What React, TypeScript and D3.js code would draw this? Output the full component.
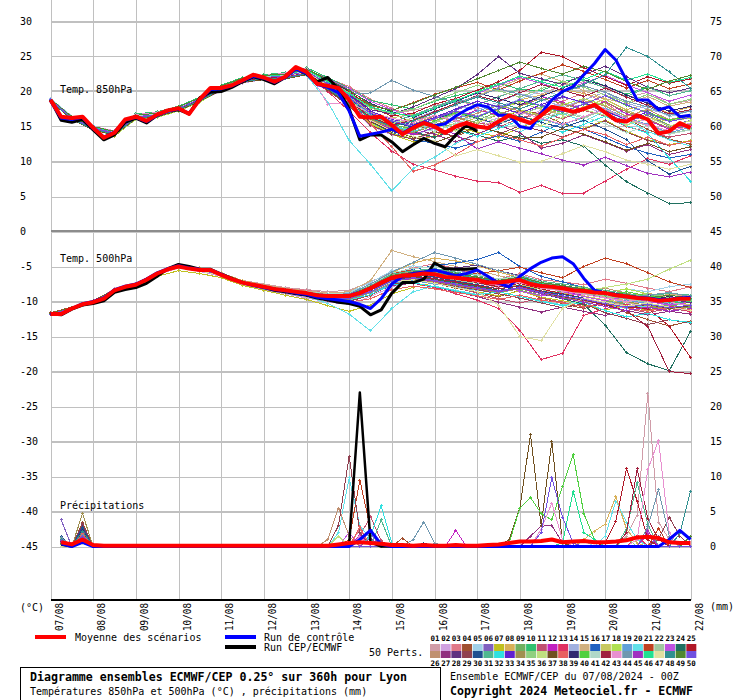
import * as React from "react";
import * as d3 from "d3";

// ---- axes / labels ----
const dayLabels = ["07/08", "08/08", "09/08", "10/08", "11/08", "12/08", "13/08", "14/08", "15/08", "16/08", "17/08", "18/08", "19/08", "20/08", "21/08", "22/08"];
const leftTicks = [30, 25, 20, 15, 10, 5, 0, -5, -10, -15, -20, -25, -30, -35, -40, -45];
const rightTicks = [75, 70, 65, 60, 55, 50, 45, 40, 35, 30, 25, 20, 15, 10, 5, 0];

const memberColors = [
  "#d09ca8", "#d0a0e0", "#e07888", "#a05030", "#a0d0e8", "#8060c0", "#c0c020", "#d8b058", "#70b060", "#30c070",
  "#c05070", "#c020c0", "#e03060", "#a0b0e0", "#d0b080", "#2060c0", "#c8c860", "#b0e050", "#60a0d8", "#60e0e8",
  "#c04020", "#a0c8a0", "#c050e0", "#207060", "#b01828",
  "#c09070", "#903080", "#603080", "#904050", "#205090", "#50b890", "#30e0e0", "#6020d0", "#a09050", "#90d080",
  "#c0e080", "#705020", "#e86060", "#302870", "#50d040", "#b0d8c8", "#a02040", "#e890d0", "#7098b0", "#a030c0",
  "#20e090", "#e0e0a0", "#309090", "#508830", "#7050e0",
];

// forecast hours
const hours6 = d3.range(0, 361, 6);
const hours12 = d3.range(0, 361, 12);
const operHours = d3.range(0, 241, 6);
const rainHours = d3.range(6, 361, 6);
const operRainHours = d3.range(6, 241, 6);

// ---- T850 (°C), 6h ----
const t850Mean = [18.8, 16.4, 16.2, 16.4, 14.8, 13.4, 14.1, 16.0, 16.4, 15.8,
  16.7, 17.3, 17.6, 16.8, 18.9, 20.5, 20.5, 20.9, 21.6, 22.4,
  22.0, 21.4, 22.1, 23.5, 22.8, 21.1, 20.8, 20.5, 18.8, 16.4,
  16.3, 16.4, 15.2, 13.9, 14.8, 15.5, 15.0, 14.1, 15.0, 15.5,
  15.0, 14.8, 15.7, 16.6, 16.0, 15.5, 16.6, 17.8, 17.5, 17.1,
  17.5, 18.1, 17.0, 15.9, 15.7, 16.6, 16.0, 14.0, 14.3, 15.5,
  14.8];
const t850Control = [18.7, 16.2, 16.0, 16.3, 14.7, 13.5, 14.2, 15.9, 16.3, 15.7,
  16.6, 17.2, 17.5, 16.9, 18.8, 20.3, 20.4, 20.8, 21.5, 22.2,
  21.9, 21.3, 22.0, 23.2, 22.6, 21.0, 20.6, 19.8, 17.2, 13.6,
  13.9, 14.2, 14.6, 14.0, 15.0, 15.6, 15.1, 15.4, 16.5, 17.4,
  18.1, 17.8, 16.6, 16.6, 15.0, 14.7, 16.9, 18.8, 20.0, 20.7,
  22.4, 24.0, 26.0, 24.5, 21.6, 18.8, 18.8, 17.4, 17.8, 16.4,
  16.6];
const t850Oper = [18.8, 15.9, 15.6, 16.0, 14.5, 13.1, 13.8, 15.6, 16.2, 15.5,
  16.6, 17.3, 17.4, 16.8, 19.1, 19.9, 20.0, 20.6, 21.4, 22.1,
  21.7, 21.1, 22.0, 23.3, 22.5, 21.4, 22.0, 20.3, 17.5, 13.1,
  13.8, 13.8, 12.8, 11.4, 12.4, 13.3, 12.6, 12.1, 13.8, 15.2,
  14.3];

// ---- T850 members (°C), 12h ----
const t850Members = [
  [18.9, 16.4, 15.0, 14.3, 16.6, 16.9, 17.9, 19.2, 20.8, 21.9, 22.4, 22.6, 23.3, 21.6, 19.9, 17.6, 16.9, 17.3, 18.0, 18.6, 18.1, 19.3, 20.2, 19.6, 20.9, 21.4, 20.7, 19.1, 19.9, 18.2, 18.7],
  [18.7, 16.1, 14.6, 13.9, 16.2, 16.5, 17.3, 18.6, 20.1, 21.2, 21.7, 21.9, 22.5, 20.2, 17.9, 15.1, 13.8, 13.2, 14.1, 14.6, 15.3, 16.2, 15.8, 17.4, 18.3, 17.9, 16.8, 15.2, 16.1, 14.7, 15.5],
  [18.8, 16.3, 14.9, 14.4, 16.7, 17.1, 17.9, 19.0, 20.6, 21.8, 22.2, 22.6, 23.1, 21.9, 20.7, 18.9, 17.6, 16.4, 15.8, 16.9, 17.7, 16.5, 15.9, 17.1, 18.6, 19.8, 18.4, 16.3, 15.2, 13.9, 14.5],
  [18.6, 16.0, 14.5, 13.8, 16.0, 16.4, 17.2, 18.5, 20.3, 21.4, 21.9, 22.0, 22.9, 21.2, 19.4, 17.8, 16.9, 15.5, 14.2, 13.6, 14.8, 15.9, 17.3, 16.8, 15.4, 16.2, 17.5, 16.1, 14.6, 13.2, 12.5],
  [19.0, 16.5, 15.1, 14.2, 16.5, 16.8, 17.7, 19.0, 20.7, 21.7, 22.2, 22.0, 22.6, 20.4, 18.5, 16.2, 14.6, 13.8, 14.7, 15.8, 16.4, 17.8, 18.9, 20.1, 19.4, 18.2, 17.6, 16.9, 18.1, 16.4, 17.2],
  [18.7, 16.2, 14.7, 14.0, 16.3, 16.6, 17.5, 18.8, 20.4, 21.5, 21.9, 22.3, 23.0, 21.4, 19.6, 17.1, 16.0, 15.4, 16.2, 17.3, 18.6, 17.9, 16.7, 17.8, 19.2, 18.5, 16.9, 15.7, 16.6, 15.0, 15.9],
  [18.9, 16.4, 14.8, 13.6, 16.1, 16.4, 17.4, 18.7, 20.3, 21.3, 21.8, 21.9, 22.4, 20.1, 18.0, 15.4, 13.9, 12.8, 13.7, 14.9, 14.2, 13.5, 14.8, 16.0, 15.3, 14.7, 15.9, 14.3, 13.1, 12.4, 13.0],
  [18.8, 16.2, 14.9, 14.2, 16.5, 16.8, 17.6, 19.0, 20.6, 21.7, 22.1, 22.4, 23.0, 21.0, 18.7, 16.9, 15.8, 15.1, 16.0, 17.2, 16.5, 17.4, 18.8, 19.5, 20.3, 19.7, 18.9, 17.4, 18.2, 16.9, 17.8],
  [18.6, 16.1, 14.6, 14.0, 16.2, 16.5, 17.4, 18.7, 20.4, 21.5, 21.9, 22.0, 22.7, 20.6, 18.3, 15.8, 14.5, 14.9, 15.6, 14.8, 15.9, 17.1, 16.4, 15.8, 17.0, 18.2, 17.3, 15.9, 16.8, 15.2, 14.7],
  [18.9, 16.3, 15.0, 14.4, 16.8, 17.1, 17.9, 19.2, 20.9, 22.0, 22.4, 22.7, 23.4, 22.0, 20.5, 18.7, 18.1, 17.5, 18.6, 19.4, 20.1, 21.2, 20.3, 20.1, 21.4, 22.0, 20.8, 19.6, 20.7, 19.4, 20.1],
  [18.8, 16.2, 14.8, 14.1, 16.4, 16.7, 17.6, 18.9, 20.5, 21.6, 22.0, 22.2, 22.9, 21.1, 19.0, 16.4, 15.1, 14.0, 13.4, 14.5, 15.6, 14.9, 16.2, 17.0, 16.1, 17.3, 16.5, 15.0, 14.2, 13.5, 14.0],
  [18.7, 16.1, 14.7, 14.2, 16.4, 16.6, 17.5, 18.8, 20.4, 21.5, 21.9, 22.1, 22.8, 20.7, 18.4, 16.0, 14.8, 13.9, 14.8, 16.1, 17.4, 16.6, 17.9, 19.3, 18.5, 17.4, 18.6, 16.8, 15.9, 14.6, 15.2],
  [18.8, 16.2, 14.8, 14.0, 16.3, 16.6, 17.5, 18.8, 20.4, 21.4, 21.8, 21.9, 22.5, 20.0, 17.2, 14.1, 11.5, 9.6, 8.8, 7.9, 7.2, 7.0, 5.6, 6.6, 5.4, 5.5, 7.2, 8.9, 10.4, 9.6, 10.8],
  [18.9, 16.4, 15.0, 14.3, 16.6, 16.9, 17.8, 19.1, 20.7, 21.8, 22.2, 22.4, 23.1, 21.3, 19.5, 17.9, 16.7, 16.1, 17.2, 18.0, 17.4, 18.5, 19.7, 18.9, 17.8, 18.8, 19.9, 18.3, 17.5, 16.7, 17.3],
  [18.8, 16.3, 14.8, 14.1, 16.5, 16.7, 17.6, 18.9, 20.5, 21.6, 22.0, 22.1, 22.8, 20.9, 18.9, 16.6, 15.5, 15.9, 17.0, 18.2, 19.4, 20.6, 21.8, 22.5, 21.4, 20.1, 19.0, 18.2, 19.3, 17.9, 18.5],
  [18.7, 16.1, 14.7, 14.1, 16.3, 16.6, 17.5, 18.8, 20.4, 21.5, 21.9, 22.0, 22.7, 20.5, 18.2, 15.6, 14.1, 13.1, 12.6, 11.9, 12.8, 13.7, 12.9, 14.2, 15.5, 14.6, 13.4, 12.1, 11.2, 10.5, 11.0],
  [18.9, 16.4, 14.9, 14.3, 16.6, 16.9, 17.7, 19.1, 20.7, 21.8, 22.2, 22.4, 23.0, 21.2, 19.3, 17.0, 16.2, 16.8, 15.9, 15.1, 16.3, 17.6, 18.4, 17.5, 16.7, 17.8, 18.9, 17.3, 16.2, 15.8, 16.4],
  [18.6, 16.0, 14.5, 13.7, 16.0, 16.3, 17.2, 18.5, 20.2, 21.3, 21.7, 21.8, 22.4, 20.3, 18.1, 15.5, 14.0, 13.3, 14.2, 15.5, 14.9, 16.0, 17.4, 16.6, 18.1, 19.0, 18.0, 16.4, 17.5, 15.8, 16.2],
  [18.8, 16.2, 14.8, 14.2, 16.5, 16.8, 17.6, 18.9, 20.6, 21.7, 22.1, 22.2, 22.9, 21.0, 18.9, 16.7, 15.2, 14.3, 15.1, 16.0, 17.2, 18.1, 17.2, 16.1, 15.2, 16.4, 17.6, 16.2, 15.3, 14.1, 14.9],
  [18.7, 16.1, 14.6, 13.9, 16.1, 16.5, 17.3, 18.6, 20.2, 21.3, 21.8, 22.0, 22.3, 18.5, 13.0, 9.6, 5.8, 9.0, 10.6, 12.6, 13.9, 15.1, 14.2, 15.8, 16.9, 15.7, 17.2, 15.9, 14.3, 13.1, 12.2],
  [18.8, 16.3, 14.9, 14.2, 16.5, 16.8, 17.7, 19.0, 20.6, 21.7, 22.1, 22.3, 23.0, 21.5, 19.8, 18.0, 17.3, 18.4, 19.6, 20.5, 21.3, 20.2, 21.5, 22.6, 23.8, 22.9, 21.7, 20.5, 21.6, 20.4, 21.1],
  [18.7, 16.2, 14.7, 14.0, 16.3, 16.6, 17.4, 18.8, 20.3, 21.4, 21.9, 22.0, 22.6, 20.6, 18.5, 16.1, 15.0, 14.5, 15.6, 16.8, 16.1, 15.4, 16.6, 17.8, 17.0, 16.2, 17.5, 16.0, 15.1, 14.0, 14.6],
  [18.9, 16.3, 14.9, 14.3, 16.6, 16.9, 17.8, 19.1, 20.8, 21.9, 22.3, 22.5, 23.2, 21.8, 20.4, 18.6, 17.4, 16.5, 17.6, 18.8, 19.7, 20.9, 22.0, 21.2, 20.1, 21.2, 22.3, 21.0, 19.8, 18.6, 19.5],
  [18.8, 16.2, 14.7, 14.0, 16.3, 16.7, 17.5, 18.8, 20.5, 21.5, 21.9, 22.1, 22.7, 20.8, 18.6, 16.3, 15.1, 14.2, 13.5, 14.6, 13.8, 12.9, 13.7, 12.6, 13.1, 12.2, 9.5, 7.1, 5.5, 4.0, 4.1],
  [18.9, 16.4, 15.0, 14.4, 16.7, 17.0, 17.8, 19.1, 20.7, 21.8, 22.2, 22.5, 23.1, 21.7, 20.0, 17.7, 16.5, 16.9, 18.2, 19.0, 20.2, 21.4, 23.0, 25.6, 25.0, 23.4, 22.1, 20.9, 22.1, 21.2, 21.8],
  [18.7, 16.1, 14.6, 13.9, 16.2, 16.5, 17.4, 18.7, 20.3, 21.4, 21.8, 21.9, 22.5, 20.4, 18.2, 15.9, 14.7, 15.3, 16.5, 15.7, 16.9, 18.0, 17.2, 16.4, 17.6, 18.7, 17.9, 16.5, 17.4, 16.0, 16.6],
  [18.8, 16.2, 14.8, 14.1, 16.4, 16.7, 17.6, 18.9, 20.5, 21.6, 22.0, 22.2, 22.8, 20.9, 18.8, 16.2, 15.3, 14.6, 13.9, 12.8, 13.9, 15.2, 14.1, 11.9, 12.6, 13.8, 12.7, 11.5, 12.4, 11.0, 11.7],
  [18.9, 16.3, 14.9, 14.2, 16.6, 16.8, 17.7, 19.0, 20.6, 21.7, 22.1, 22.4, 23.0, 21.3, 19.6, 17.4, 16.8, 17.8, 19.1, 20.4, 22.4, 25.0, 22.6, 21.8, 21.0, 22.4, 23.6, 22.1, 20.6, 19.8, 20.5],
  [18.6, 16.0, 14.5, 13.8, 16.1, 16.4, 17.3, 18.6, 20.2, 21.3, 21.7, 21.8, 22.4, 20.2, 17.9, 15.2, 13.9, 13.2, 14.3, 13.6, 12.8, 13.9, 15.1, 14.4, 13.5, 14.6, 15.8, 14.2, 13.0, 12.3, 12.9],
  [18.8, 16.3, 14.9, 14.2, 16.5, 16.8, 17.7, 19.0, 20.6, 21.6, 22.0, 22.2, 22.9, 21.1, 19.0, 16.8, 15.6, 14.9, 16.1, 17.0, 16.2, 15.3, 16.5, 15.6, 14.8, 15.9, 14.6, 13.1, 10.1, 8.2, 9.3],
  [18.7, 16.2, 14.7, 14.0, 16.3, 16.6, 17.5, 18.8, 20.4, 21.5, 21.9, 22.1, 22.8, 20.9, 18.9, 16.5, 15.7, 16.6, 17.8, 18.9, 18.1, 19.2, 20.4, 21.5, 22.4, 21.6, 20.5, 19.3, 20.6, 19.4, 20.1],
  [18.9, 16.4, 15.0, 14.3, 16.6, 16.9, 17.8, 19.1, 20.7, 21.8, 22.2, 22.5, 23.2, 21.5, 19.2, 16.7, 15.1, 14.2, 15.3, 14.5, 13.6, 14.7, 15.9, 15.1, 14.2, 15.3, 16.5, 15.1, 14.0, 10.5, 7.2],
  [18.8, 16.2, 14.8, 14.1, 16.4, 16.7, 17.6, 18.9, 20.5, 21.6, 22.0, 22.3, 22.9, 21.2, 19.4, 17.2, 16.0, 15.2, 16.3, 17.5, 18.6, 17.8, 16.9, 18.1, 19.3, 18.4, 17.2, 16.0, 17.1, 15.7, 16.3],
  [18.7, 16.1, 14.6, 13.9, 16.2, 16.5, 17.4, 18.7, 20.3, 21.4, 21.8, 21.9, 22.6, 20.6, 18.6, 16.0, 14.9, 14.1, 15.2, 16.3, 15.5, 16.7, 17.9, 19.0, 18.3, 17.3, 18.5, 17.1, 16.0, 14.8, 15.3],
  [18.9, 16.3, 14.9, 14.3, 16.6, 16.9, 17.7, 19.1, 20.7, 21.8, 22.2, 22.4, 23.0, 21.4, 19.8, 17.6, 16.9, 17.5, 18.7, 19.8, 20.9, 20.1, 19.2, 20.4, 21.5, 20.6, 19.5, 18.4, 19.6, 18.2, 18.9],
  [18.8, 16.2, 14.8, 14.1, 16.4, 16.7, 17.6, 18.9, 20.5, 21.6, 22.0, 22.2, 22.9, 21.0, 18.8, 16.3, 15.4, 16.2, 15.3, 14.4, 15.6, 16.8, 16.0, 15.1, 16.3, 17.4, 16.6, 15.2, 16.3, 15.1, 15.8],
  [18.6, 16.0, 14.5, 13.8, 16.1, 16.4, 17.3, 18.6, 20.2, 21.3, 21.7, 21.8, 22.4, 20.3, 18.1, 15.7, 14.3, 13.5, 12.7, 13.8, 15.0, 14.2, 13.3, 13.5, 14.7, 13.9, 12.8, 11.6, 12.6, 11.4, 12.1],
  [18.8, 16.2, 14.8, 14.2, 16.5, 16.8, 17.6, 18.9, 20.6, 21.7, 22.1, 22.3, 22.9, 21.1, 18.6, 15.4, 12.1, 8.6, 9.5, 11.0, 12.8, 13.9, 13.1, 12.2, 13.4, 14.6, 13.8, 12.4, 13.5, 12.3, 12.9],
  [18.9, 16.4, 14.9, 14.3, 16.6, 16.9, 17.8, 19.1, 20.7, 21.8, 22.2, 22.4, 23.1, 21.6, 20.1, 18.3, 17.1, 16.3, 17.5, 18.6, 19.8, 19.0, 18.1, 19.3, 20.5, 21.7, 20.8, 19.5, 18.3, 17.2, 17.9],
  [18.7, 16.1, 14.6, 14.0, 16.3, 16.6, 17.5, 18.8, 20.4, 21.5, 21.9, 22.0, 22.7, 20.7, 18.5, 16.1, 15.3, 14.6, 15.8, 17.0, 16.3, 17.5, 18.7, 17.9, 17.0, 18.2, 19.4, 18.0, 17.0, 15.9, 16.5],
  [18.8, 16.3, 14.9, 14.2, 16.5, 16.8, 17.7, 19.0, 20.6, 21.7, 22.1, 22.3, 23.0, 21.2, 19.1, 16.9, 15.9, 15.1, 14.3, 15.4, 16.6, 15.8, 14.9, 16.1, 17.2, 16.4, 15.4, 14.1, 15.1, 13.9, 14.5],
  [18.7, 16.1, 14.7, 14.0, 16.3, 16.6, 17.5, 18.8, 20.4, 21.5, 21.9, 22.1, 22.7, 20.8, 18.7, 16.3, 15.2, 15.9, 17.1, 18.3, 19.4, 18.6, 19.8, 21.0, 20.2, 19.3, 20.5, 19.2, 18.0, 16.8, 17.4],
  [18.9, 16.4, 15.0, 14.4, 16.7, 17.0, 17.8, 19.1, 20.7, 21.9, 22.3, 22.6, 23.3, 18.2, 18.4, 16.9, 16.2, 15.6, 16.6, 15.8, 14.9, 15.9, 17.0, 16.2, 15.3, 16.4, 17.5, 16.1, 15.2, 14.4, 15.0],
  [18.8, 16.2, 14.8, 14.1, 16.4, 16.7, 17.6, 18.9, 20.5, 21.6, 22.0, 22.2, 22.8, 21.0, 19.6, 19.8, 21.6, 20.2, 19.3, 18.4, 19.3, 20.4, 19.6, 18.7, 19.9, 20.8, 19.9, 18.6, 17.8, 16.6, 17.2],
  [18.7, 16.1, 14.7, 14.0, 16.3, 16.6, 17.4, 18.7, 20.3, 21.4, 21.8, 22.0, 22.6, 20.5, 18.3, 15.8, 14.6, 13.8, 14.9, 13.9, 11.8, 12.8, 11.9, 11.1, 10.2, 9.5, 10.6, 9.4, 8.3, 7.8, 8.5],
  [18.9, 16.3, 14.9, 14.3, 16.6, 16.9, 17.8, 19.1, 20.7, 21.8, 22.2, 22.4, 23.1, 21.4, 19.7, 17.8, 17.0, 16.4, 17.6, 18.7, 19.9, 21.0, 22.2, 21.4, 20.6, 21.7, 22.9, 21.6, 22.5, 21.3, 22.0],
  [18.8, 16.2, 14.8, 14.1, 16.4, 16.7, 17.6, 18.9, 20.5, 21.6, 22.0, 22.2, 22.8, 20.8, 18.5, 15.9, 14.4, 13.6, 12.9, 10.8, 11.7, 10.8, 9.9, 10.0, 11.1, 12.3, 11.4, 10.2, 9.6, 8.9, 9.6],
  [18.7, 16.1, 14.6, 13.9, 16.2, 16.5, 17.4, 18.7, 20.3, 21.4, 21.8, 21.9, 22.5, 20.4, 18.3, 16.2, 15.0, 15.8, 16.9, 18.1, 19.2, 18.4, 17.5, 18.7, 19.9, 21.0, 22.4, 26.3, 25.0, 22.8, 20.5],
  [18.9, 16.4, 15.0, 14.3, 16.6, 16.9, 17.8, 19.1, 20.8, 21.9, 22.3, 22.5, 23.2, 21.7, 20.2, 18.1, 17.3, 18.3, 19.5, 20.6, 21.8, 23.0, 24.2, 23.3, 22.5, 23.6, 22.8, 21.4, 20.3, 21.5, 22.3],
  [18.8, 16.2, 14.8, 14.1, 16.4, 16.7, 17.6, 18.9, 20.5, 21.6, 22.0, 22.2, 22.9, 21.1, 19.1, 16.9, 15.8, 15.0, 16.1, 17.2, 16.4, 17.6, 18.8, 18.0, 17.1, 18.2, 19.4, 18.1, 16.9, 15.7, 16.3],
];

// ---- T500 (°C), 6h ----
const t500Mean = [-11.8, -11.8, -11.0, -10.4, -10.1, -9.6, -8.4, -7.9, -7.6, -6.9,
  -6.0, -5.4, -5.0, -5.3, -5.5, -5.5, -6.2, -6.8, -7.3, -7.6,
  -7.9, -8.2, -8.4, -8.6, -8.8, -9.1, -9.2, -9.2, -9.2, -8.8,
  -8.1, -7.3, -6.6, -6.3, -6.2, -6.0, -6.1, -6.5, -6.6, -6.8,
  -6.9, -7.3, -7.3, -7.1, -6.9, -7.5, -7.8, -7.9, -8.1, -8.4,
  -8.5, -8.7, -8.8, -9.1, -9.3, -9.5, -9.6, -9.9, -9.8, -9.6,
  -9.6];
const t500Control = [-11.7, -11.8, -11.0, -10.3, -10.0, -9.5, -8.3, -7.8, -7.5, -6.8,
  -5.9, -5.3, -4.9, -5.2, -5.4, -5.5, -6.1, -6.8, -7.3, -7.7,
  -8.0, -8.3, -8.5, -8.8, -9.0, -9.4, -9.6, -9.8, -10.0, -10.4,
  -11.0, -9.6, -7.5, -6.4, -6.0, -5.8, -5.5, -5.9, -6.3, -6.0,
  -5.5, -6.4, -7.4, -7.9, -6.4, -5.3, -4.4, -3.8, -3.6, -4.6,
  -6.7, -8.4, -8.8, -9.0, -9.3, -9.4, -9.5, -9.7, -9.7, -9.5,
  -9.4];
const t500Oper = [-11.8, -11.9, -11.1, -10.5, -10.3, -9.9, -8.7, -8.3, -8.0, -7.4,
  -6.4, -5.3, -4.7, -5.0, -5.4, -5.4, -6.1, -6.7, -7.3, -7.7,
  -8.0, -8.4, -8.6, -8.9, -9.1, -9.5, -9.8, -10.1, -10.3, -10.7,
  -11.9, -11.2, -8.8, -7.3, -7.3, -6.8, -4.5, -5.3, -5.4, -5.4,
  -5.3];

// ---- T500 members (°C), 12h ----
const t500Members = [
  [-11.7, -10.9, -10.0, -8.2, -7.4, -5.9, -4.9, -5.3, -6.0, -7.0, -7.5, -8.0, -8.3, -8.6, -8.4, -7.2, -5.8, -5.5, -5.9, -6.8, -7.4, -8.0, -7.1, -8.3, -9.0, -9.6, -10.1, -10.5, -9.8, -10.6, -11.2],
  [-11.9, -11.1, -10.2, -8.6, -7.8, -6.2, -5.2, -5.7, -6.4, -7.6, -8.3, -8.9, -9.5, -10.1, -10.4, -9.3, -7.9, -7.1, -6.5, -7.2, -7.8, -7.0, -6.2, -7.1, -7.9, -8.6, -9.4, -10.2, -10.8, -10.3, -9.7],
  [-11.8, -11.0, -10.1, -8.5, -7.5, -5.9, -5.0, -5.4, -6.1, -7.2, -7.7, -8.1, -8.4, -8.8, -8.9, -7.6, -6.0, -5.2, -4.6, -5.3, -6.1, -6.8, -6.0, -6.9, -7.2, -7.6, -6.8, -7.4, -8.1, -8.6, -7.9],
  [-11.6, -10.8, -9.9, -8.3, -7.6, -6.1, -5.1, -5.6, -6.3, -7.4, -8.1, -8.7, -9.2, -9.8, -10.0, -9.1, -7.6, -7.0, -7.4, -8.1, -8.7, -9.3, -8.4, -9.5, -10.3, -11.0, -10.2, -11.6, -12.6, -13.5, -12.8],
  [-11.9, -11.1, -10.3, -8.6, -7.7, -6.0, -4.9, -5.4, -6.2, -7.3, -7.8, -8.2, -8.5, -8.9, -8.7, -7.3, -5.6, -4.9, -5.3, -5.9, -6.3, -6.9, -6.5, -7.4, -7.9, -8.3, -8.8, -8.2, -8.6, -7.9, -7.5],
  [-11.8, -10.9, -10.0, -8.4, -7.6, -6.0, -5.0, -5.5, -6.3, -7.4, -8.0, -8.6, -9.0, -9.5, -9.6, -8.6, -7.0, -6.5, -6.0, -5.5, -6.2, -7.1, -7.9, -8.6, -8.0, -8.9, -9.5, -9.0, -9.8, -10.4, -10.0],
  [-11.7, -11.0, -10.2, -8.6, -7.9, -6.4, -5.6, -6.0, -6.6, -7.7, -8.4, -9.1, -9.7, -10.6, -11.4, -10.5, -8.9, -8.0, -7.3, -7.9, -8.6, -9.2, -8.5, -9.4, -9.9, -10.5, -11.2, -10.6, -11.3, -10.7, -10.1],
  [-11.8, -11.0, -10.1, -8.3, -7.5, -5.9, -4.8, -5.2, -5.9, -7.0, -7.6, -8.2, -8.6, -9.0, -9.1, -7.8, -5.9, -4.5, -3.8, -4.2, -4.9, -5.8, -6.6, -7.5, -8.3, -7.9, -8.7, -9.3, -8.8, -9.5, -9.1],
  [-11.9, -11.1, -10.2, -8.5, -7.7, -6.1, -5.1, -5.6, -6.2, -7.3, -7.9, -8.4, -8.8, -9.3, -9.4, -8.3, -6.8, -6.3, -6.8, -7.4, -6.9, -7.6, -8.4, -9.1, -8.5, -9.2, -9.9, -10.4, -11.0, -10.5, -10.9],
  [-11.7, -10.9, -10.0, -8.3, -7.5, -5.9, -4.9, -5.4, -6.1, -7.2, -7.8, -8.3, -8.6, -9.0, -9.0, -7.9, -6.3, -5.8, -5.4, -6.0, -6.5, -7.1, -6.6, -7.5, -8.0, -8.4, -8.9, -9.3, -9.8, -10.2, -10.0],
  [-11.8, -11.0, -10.1, -8.4, -7.6, -6.0, -5.0, -5.5, -6.2, -7.3, -7.9, -8.4, -8.9, -9.4, -9.6, -8.7, -7.2, -6.8, -7.3, -8.0, -8.8, -9.6, -10.2, -9.5, -10.1, -10.8, -10.2, -11.0, -11.6, -11.0, -11.4],
  [-11.9, -11.1, -10.2, -8.5, -7.7, -6.1, -5.1, -5.6, -6.3, -7.4, -8.0, -8.5, -8.9, -9.3, -9.3, -8.2, -6.7, -6.1, -5.7, -6.3, -6.9, -7.5, -7.0, -7.9, -8.5, -9.1, -8.6, -9.5, -10.0, -9.4, -9.8],
  [-11.8, -11.0, -10.1, -8.4, -7.6, -6.0, -5.0, -5.5, -6.2, -7.3, -7.9, -8.5, -8.9, -9.4, -9.6, -8.8, -7.6, -7.4, -8.0, -8.9, -9.8, -11.0, -14.1, -18.3, -17.4, -12.0, -11.0, -10.4, -11.2, -10.6, -11.5],
  [-11.7, -10.9, -10.0, -8.3, -7.5, -5.9, -4.9, -5.4, -6.1, -7.2, -7.8, -8.3, -8.7, -9.1, -9.2, -8.0, -6.5, -6.0, -5.6, -6.1, -6.7, -7.2, -6.8, -7.6, -8.0, -8.5, -9.0, -9.6, -10.0, -9.5, -9.2],
  [-11.8, -11.0, -10.0, -8.3, -7.5, -5.9, -4.9, -5.3, -6.0, -7.1, -7.6, -8.1, -8.5, -8.8, -8.6, -7.0, -2.7, -3.6, -4.3, -5.0, -5.6, -6.3, -7.0, -7.6, -8.2, -8.8, -9.3, -9.9, -9.4, -9.0, -9.2],
  [-11.9, -11.1, -10.2, -8.5, -7.7, -6.1, -5.1, -5.6, -6.2, -7.3, -7.9, -8.4, -8.8, -9.2, -9.1, -7.8, -6.1, -5.4, -4.9, -4.5, -4.0, -3.0, -5.0, -6.4, -7.2, -8.0, -8.6, -9.1, -9.5, -9.9, -9.4],
  [-11.7, -10.9, -10.0, -8.4, -7.6, -6.0, -5.0, -5.4, -6.1, -7.2, -7.8, -8.4, -8.9, -9.4, -9.4, -8.4, -6.9, -6.4, -6.7, -7.3, -7.7, -8.2, -7.6, -8.3, -8.8, -9.2, -9.8, -10.1, -10.6, -10.1, -10.5],
  [-11.8, -11.0, -10.1, -8.5, -7.6, -6.0, -5.0, -5.5, -6.2, -7.3, -7.9, -8.3, -8.7, -9.1, -9.1, -8.0, -6.4, -5.9, -5.6, -6.2, -6.6, -7.0, -6.4, -7.2, -7.8, -8.1, -8.7, -8.2, -8.9, -9.6, -9.3],
  [-11.9, -11.1, -10.2, -8.5, -7.7, -6.1, -5.1, -5.6, -6.3, -7.4, -8.1, -8.6, -9.1, -9.6, -9.7, -8.8, -7.4, -7.0, -7.5, -7.9, -8.4, -8.8, -8.1, -8.8, -9.3, -9.9, -10.4, -9.8, -10.3, -10.9, -10.5],
  [-11.8, -11.0, -10.1, -8.4, -7.6, -6.0, -5.0, -5.5, -6.2, -7.3, -7.9, -8.5, -9.2, -10.3, -11.8, -14.2, -11.0, -8.6, -7.8, -8.4, -9.0, -8.6, -9.3, -9.9, -10.5, -9.8, -10.4, -11.0, -10.6, -10.1, -10.7],
  [-11.7, -10.9, -10.0, -8.3, -7.5, -5.9, -4.9, -5.3, -6.0, -7.1, -7.7, -8.2, -8.6, -9.0, -8.9, -7.6, -6.0, -5.5, -5.8, -6.3, -6.0, -5.6, -5.1, -5.9, -6.6, -5.0, -3.8, -4.6, -5.9, -7.2, -8.0],
  [-11.8, -11.0, -10.1, -8.4, -7.6, -6.0, -5.0, -5.5, -6.2, -7.3, -7.9, -8.4, -8.8, -9.2, -9.2, -8.1, -6.6, -6.1, -6.5, -7.0, -7.4, -7.8, -7.2, -8.0, -8.4, -8.9, -9.2, -9.7, -10.1, -9.6, -9.9],
  [-11.9, -11.1, -10.2, -8.5, -7.6, -6.0, -5.0, -5.5, -6.2, -7.3, -8.0, -8.5, -9.0, -9.5, -9.5, -8.4, -6.8, -6.3, -6.0, -6.6, -7.1, -7.7, -8.5, -9.2, -8.6, -9.3, -9.9, -9.3, -10.0, -10.5, -10.1],
  [-11.8, -11.0, -10.1, -8.4, -7.6, -6.0, -5.0, -5.5, -6.2, -7.3, -7.9, -8.4, -8.8, -9.2, -9.3, -8.2, -6.7, -6.3, -6.8, -7.3, -7.8, -8.4, -8.0, -8.9, -9.6, -10.4, -13.4, -17.3, -18.9, -19.9, -14.3],
  [-11.7, -10.9, -10.0, -8.3, -7.5, -5.9, -4.9, -5.4, -6.1, -7.2, -7.8, -8.3, -8.7, -9.1, -9.1, -8.0, -6.4, -5.9, -6.2, -6.8, -7.3, -7.9, -7.4, -8.2, -8.9, -9.5, -10.1, -10.8, -11.0, -13.5, -18.0],
  [-11.8, -11.0, -10.0, -8.3, -7.5, -5.9, -4.9, -5.4, -6.1, -7.2, -7.8, -8.3, -8.7, -9.1, -9.0, -7.8, -6.2, -5.7, -5.4, -6.0, -6.6, -7.1, -6.5, -7.3, -7.9, -8.4, -8.1, -8.8, -9.4, -9.8, -9.3],
  [-11.9, -11.1, -10.2, -8.5, -7.7, -6.1, -5.1, -5.6, -6.3, -7.4, -8.0, -8.6, -9.1, -9.7, -9.9, -9.0, -7.7, -7.4, -7.9, -8.6, -9.3, -10.1, -10.8, -11.5, -10.8, -11.4, -12.0, -11.3, -11.9, -11.4, -11.8],
  [-11.8, -11.0, -10.1, -8.4, -7.6, -6.0, -5.0, -5.5, -6.2, -7.3, -7.9, -8.4, -8.8, -9.2, -9.2, -8.1, -6.5, -6.0, -5.6, -5.2, -4.8, -5.6, -6.3, -7.1, -7.8, -8.4, -8.9, -9.5, -9.0, -9.6, -10.2],
  [-11.7, -10.9, -10.0, -8.3, -7.5, -5.9, -4.9, -5.4, -6.1, -7.2, -7.8, -8.3, -8.8, -9.3, -9.5, -8.6, -7.1, -6.7, -7.2, -7.8, -8.3, -8.9, -9.5, -10.2, -10.9, -10.3, -11.6, -12.4, -13.3, -12.6, -13.1],
  [-11.8, -11.0, -10.1, -8.4, -7.6, -6.0, -5.0, -5.5, -6.2, -7.3, -7.9, -8.4, -8.8, -9.2, -9.2, -8.1, -6.6, -6.2, -6.5, -7.1, -7.6, -8.2, -7.7, -8.5, -9.0, -9.5, -10.1, -10.7, -10.2, -10.8, -11.3],
  [-11.9, -11.1, -10.2, -8.5, -7.7, -6.1, -5.1, -5.6, -6.2, -7.3, -7.9, -8.3, -8.7, -9.0, -8.9, -7.7, -6.1, -5.6, -5.3, -5.8, -6.3, -6.8, -6.3, -7.1, -7.5, -8.0, -8.4, -8.9, -9.3, -8.8, -9.1],
  [-11.8, -11.0, -10.1, -8.4, -7.6, -6.0, -5.0, -5.5, -6.2, -7.3, -7.9, -8.5, -9.0, -9.6, -9.8, -9.0, -7.6, -7.3, -7.9, -8.5, -9.1, -8.6, -9.3, -10.0, -10.6, -10.1, -11.3, -12.2, -11.7, -12.6, -13.0],
  [-11.7, -10.9, -10.0, -8.3, -7.5, -5.9, -4.9, -5.4, -6.1, -7.2, -7.8, -8.2, -8.6, -9.0, -9.0, -7.9, -6.4, -5.9, -5.6, -6.1, -6.6, -7.0, -6.5, -7.3, -7.7, -8.2, -8.7, -9.1, -9.6, -10.0, -9.6],
  [-11.8, -11.0, -10.1, -8.4, -7.6, -6.0, -5.0, -5.5, -6.2, -7.3, -8.0, -8.6, -9.1, -9.6, -9.7, -8.7, -7.2, -6.8, -7.2, -7.7, -8.2, -8.7, -8.2, -8.9, -9.4, -9.9, -10.4, -10.0, -10.6, -11.1, -10.7],
  [-11.9, -11.1, -10.2, -8.5, -7.7, -6.1, -5.1, -5.6, -6.3, -7.4, -8.0, -8.5, -8.9, -9.3, -9.2, -8.1, -6.6, -6.1, -5.8, -6.3, -6.8, -7.3, -6.9, -7.7, -8.0, -8.6, -9.0, -9.4, -8.9, -9.5, -9.9],
  [-11.8, -11.0, -10.1, -8.4, -7.6, -6.0, -5.0, -5.5, -6.2, -7.3, -7.9, -8.4, -8.8, -9.2, -9.2, -8.1, -6.6, -6.2, -6.0, -6.5, -7.0, -7.4, -7.0, -7.8, -8.1, -8.5, -8.0, -7.5, -6.8, -5.4, -4.1],
  [-11.7, -10.9, -10.0, -8.3, -7.5, -5.9, -4.9, -5.4, -6.1, -7.2, -7.8, -8.3, -8.8, -9.3, -9.4, -8.4, -6.9, -6.5, -6.9, -7.5, -7.9, -8.5, -8.0, -8.7, -9.3, -9.8, -10.4, -10.9, -10.4, -11.0, -10.6],
  [-11.8, -11.0, -10.1, -8.4, -7.6, -6.0, -5.0, -5.5, -6.2, -7.3, -7.9, -8.5, -9.1, -9.7, -10.1, -9.6, -8.3, -7.8, -8.2, -8.7, -9.2, -9.7, -9.1, -9.8, -10.2, -10.7, -10.3, -10.9, -11.4, -10.8, -11.2],
  [-11.9, -11.1, -10.2, -8.5, -7.7, -6.1, -5.1, -5.6, -6.3, -7.4, -8.0, -8.5, -8.9, -9.3, -9.3, -8.2, -6.7, -6.2, -5.9, -6.4, -6.8, -7.3, -6.8, -7.6, -8.0, -8.4, -8.8, -9.3, -9.7, -9.3, -9.6],
  [-11.8, -11.0, -10.1, -8.4, -7.6, -6.0, -5.0, -5.5, -6.2, -7.3, -7.9, -8.4, -8.8, -9.2, -9.2, -8.1, -6.6, -6.1, -5.9, -6.4, -6.9, -7.3, -6.8, -7.6, -8.1, -8.6, -9.1, -8.6, -9.2, -9.7, -9.4],
  [-11.7, -10.9, -10.0, -8.3, -7.5, -5.9, -4.9, -5.3, -6.0, -7.1, -7.7, -8.2, -8.6, -8.9, -8.8, -7.6, -5.9, -5.3, -5.0, -5.6, -6.2, -6.8, -6.4, -7.2, -7.7, -8.2, -8.6, -9.0, -9.5, -9.1, -9.4],
  [-11.8, -11.0, -10.1, -8.4, -7.6, -6.0, -5.0, -5.5, -6.2, -7.3, -7.9, -8.4, -8.9, -9.3, -9.4, -8.4, -6.9, -6.4, -6.7, -7.2, -7.7, -8.2, -7.8, -8.6, -9.2, -9.8, -10.5, -11.3, -13.6, -20.0, -20.3],
  [-11.9, -11.1, -10.2, -8.5, -7.7, -6.1, -5.1, -5.6, -6.3, -7.4, -8.0, -8.5, -8.9, -9.3, -9.3, -8.2, -6.7, -6.3, -6.1, -6.7, -7.2, -7.7, -7.3, -8.1, -8.5, -9.0, -9.5, -10.0, -9.5, -10.1, -10.6],
  [-11.8, -11.0, -10.1, -8.4, -7.6, -6.0, -5.0, -5.5, -6.2, -7.3, -7.9, -8.3, -8.7, -9.0, -8.9, -7.5, -5.8, -4.4, -3.0, -3.8, -4.7, -5.6, -6.4, -7.3, -7.9, -8.5, -9.0, -9.6, -9.1, -8.7, -9.3],
  [-11.7, -10.9, -10.0, -8.3, -7.5, -5.9, -4.9, -5.4, -6.1, -7.2, -7.9, -8.5, -9.0, -9.5, -9.6, -8.6, -7.1, -6.7, -7.1, -7.6, -8.1, -8.6, -8.1, -8.9, -9.5, -10.1, -10.7, -11.3, -10.8, -11.4, -11.0],
  [-11.8, -11.0, -10.1, -8.4, -7.6, -6.0, -5.0, -5.5, -6.2, -7.3, -7.9, -8.4, -8.8, -9.2, -9.1, -8.0, -6.4, -5.9, -5.6, -6.1, -6.6, -7.0, -6.6, -7.4, -7.9, -8.3, -8.8, -9.2, -9.7, -10.1, -9.7],
  [-11.9, -11.1, -10.2, -8.5, -7.7, -6.1, -5.1, -5.6, -6.3, -7.4, -8.0, -8.5, -9.0, -9.5, -9.6, -8.6, -7.2, -6.9, -7.4, -8.0, -8.6, -10.5, -15.0, -15.6, -11.0, -9.5, -10.1, -10.7, -10.2, -10.8, -11.3],
  [-11.8, -11.0, -10.1, -8.4, -7.6, -6.0, -5.0, -5.5, -6.2, -7.3, -7.9, -8.4, -8.8, -9.1, -9.1, -8.0, -6.5, -6.0, -5.7, -6.2, -6.7, -7.1, -6.7, -7.5, -7.9, -8.3, -8.7, -9.1, -9.6, -10.0, -9.5],
  [-11.7, -10.9, -10.0, -8.3, -7.5, -5.9, -4.9, -5.4, -6.1, -7.2, -7.8, -8.3, -8.7, -9.1, -9.1, -7.9, -6.3, -5.8, -5.5, -6.0, -6.5, -7.0, -6.5, -7.3, -7.7, -8.2, -8.6, -9.0, -9.5, -9.1, -9.5],
  [-11.8, -11.0, -10.1, -8.4, -7.6, -6.0, -5.0, -5.5, -6.2, -7.3, -8.0, -8.5, -9.0, -9.5, -9.6, -8.6, -7.1, -6.6, -7.0, -7.5, -8.0, -8.5, -8.0, -8.7, -9.2, -9.7, -10.3, -10.8, -10.4, -10.9, -10.5],
];

// ---- precipitation (mm per 6h), from 6h ----
const precipMean = [0.6, 0.3, 1.0, 0.2,
  0.1, 0.1, 0.1, 0.1, 0.1, 0.1, 0.1, 0.1, 0.1, 0.1, 0.1, 0.1, 0.1, 0.1, 0.1, 0.1, 0.1, 0.1, 0.1, 0.1, 0.1, 0.1,
  0.3, 0.5, 0.6, 0.5, 0.4, 0.2, 0.2, 0.1, 0.2, 0.1, 0.1, 0.2, 0.1, 0.1, 0.2, 0.3, 0.5, 0.7, 0.7, 0.8,
  1.0, 0.6, 0.7, 0.8, 0.6, 0.6, 0.7, 0.9, 1.3, 1.4, 1.2, 0.6, 0.5, 0.5];
const precipControl = [0.4, 0, 0.6,
  0, 0, 0, 0, 0, 0, 0, 0, 0, 0, 0, 0, 0, 0, 0, 0, 0, 0, 0, 0, 0, 0, 0, 0, 0,
  1.0, 2.3, 0.3,
  0, 0, 0, 0, 0, 0, 0, 0, 0, 0, 0, 0, 0, 0, 0, 0, 0, 0, 0, 0, 0, 0, 0, 0, 0, 0,
  1.0, 2.3, 1.0];
const precipOper = [0.3, 0, 0.8, 0,
  0, 0, 0, 0, 0, 0, 0, 0, 0, 0, 0, 0, 0, 0, 0, 0, 0, 0, 0, 0, 0, 0, 0,
  0.3, 22.0, 0.6,
  0, 0, 0, 0, 0, 0, 0, 0, 0, 0];

// member rain: [hour, mm] for each 6h step with rain, zero elsewhere
const precipMembers = [
  [[6, 0.8], [18, 1.5], [324, 1.5], [330, 4.5], [336, 21.9], [342, 3.5], [348, 1.0]],
  [[6, 0.5], [18, 0.9]],
  [[6, 1.0], [18, 2.4], [174, 2.5]],
  [[6, 0.6], [18, 3.4], [198, 1.2]],
  [[6, 1.2], [18, 0.6], [300, 0.8]],
  [[6, 3.8], [18, 1.2], [180, 1.8], [342, 1.5]],
  [[18, 0.5]],
  [[6, 0.7], [18, 1.8], [300, 1.0], [306, 2.2], [312, 3.2], [318, 7.1], [324, 2.5], [330, 0.5]],
  [[6, 0.4], [18, 1.1]],
  [[6, 1.4], [18, 2.0], [192, 0.5]],
  [[6, 0.9], [18, 2.9], [174, 1.5], [180, 4.3], [186, 0.8]],
  [[18, 1.3], [174, 1.6], [228, 2.3], [336, 1.8]],
  [[6, 0.6], [18, 1.7], [330, 1.6]],
  [[6, 1.1], [18, 0.8]],
  [[6, 0.5], [18, 2.2]],
  [[6, 0.3], [18, 1.0]],
  [[18, 0.7]],
  [[6, 0.8], [18, 1.4]],
  [[6, 1.0], [18, 0.9]],
  [[6, 0.4], [18, 1.6], [162, 2.0], [168, 9.8], [174, 3.0], [180, 1.0], [312, 1.5], [318, 6.5], [324, 3.5], [330, 1.0]],
  [[6, 0.7], [18, 2.6], [168, 1.0], [174, 9.5], [180, 2.5], [342, 2.6]],
  [[18, 0.6]],
  [[6, 1.3], [18, 1.9], [168, 2.0]],
  [[6, 0.5], [18, 2.1]],
  [[6, 0.9], [18, 1.2], [312, 0.5], [318, 3.6], [324, 11.1], [330, 6.5], [336, 1.0]],
  [[6, 0.6], [18, 1.0], [156, 1.0], [162, 5.5], [168, 1.5]],
  [[6, 1.1], [18, 2.5], [270, 1.5], [276, 2.9], [282, 3.0], [288, 0.5]],
  [[6, 0.8], [18, 3.0]],
  [[6, 0.5], [18, 3.3], [162, 3.0], [168, 12.9], [174, 2.0], [342, 1.0], [348, 4.2], [354, 1.5]],
  [[6, 1.5], [18, 2.7], [210, 0.5]],
  [[6, 0.4], [18, 1.5], [186, 3.8], [324, 2.5], [330, 9.1], [336, 3.2]],
  [[18, 0.8], [180, 1.5], [186, 5.8], [192, 0.5]],
  [[6, 0.9], [18, 1.3]],
  [[6, 0.7], [18, 4.7]],
  [[6, 1.2], [18, 1.1], [324, 1.2]],
  [[18, 0.5], [162, 1.5]],
  [[6, 0.6], [18, 2.0], [258, 1.0], [264, 5.5], [270, 16.0], [276, 3.0], [282, 15.0], [288, 0.5]],
  [[6, 0.8], [18, 1.8], [174, 2.8]],
  [[6, 1.0], [18, 2.3]],
  [[6, 0.3], [18, 0.9], [258, 0.5], [264, 5.5], [270, 7.0], [276, 4.7], [282, 3.8], [288, 8.6], [294, 13.1], [300, 4.7], [306, 1.0]],
  [[18, 0.6]],
  [[6, 0.7], [18, 2.2], [324, 2.0], [330, 11.1], [336, 4.0], [342, 1.0]],
  [[6, 0.5], [18, 1.2], [174, 1.4], [276, 2.5], [282, 6.2], [288, 1.0], [330, 1.0], [336, 11.0], [342, 15.2], [348, 2.0]],
  [[6, 1.3], [18, 1.6], [204, 1.0], [210, 3.5], [216, 0.5], [336, 2.8], [342, 8.1], [348, 1.5]],
  [[6, 0.6], [18, 1.0], [180, 1.2], [336, 2.3]],
  [[6, 0.9], [18, 1.4], [288, 0.5], [294, 7.9], [300, 2.0], [306, 1.0]],
  [[18, 0.4]],
  [[6, 1.0], [18, 2.2], [354, 1.8], [360, 7.9]],
  [[6, 0.4], [18, 0.8], [360, 1.5]],
  [[6, 0.8], [18, 1.5], [276, 2.0], [282, 9.8], [288, 4.2], [294, 0.5]],
];

const FONT = "'DejaVu Sans Mono', monospace";

function plusMarks(pts: [number, number][]) {
  return pts.map(([px, py]) => `M${px - 1.5},${py}h3M${px},${py - 1.5}v3`).join("");
}

function drawChart(svgEl: SVGSVGElement) {
  const svg = d3.select(svgEl);
  svg.selectAll("*").remove();

  const x = d3.scaleLinear().domain([0, 360]).range([50.5, 690.5]);
  const y = d3.scaleLinear().domain([-45, 30]).range([546.5, 21.5]);
  const yRain = d3.scaleLinear().domain([0, 75]).range([546.5, 21.5]);

  svg.append("rect").attr("width", 740).attr("height", 700).attr("fill", "#fff");

  // grid
  const grid = svg.append("g").attr("shape-rendering", "crispEdges");
  grid.selectAll("line.v")
    .data(d3.range(0, 361, 24))
    .join("line")
    .attr("x1", (d) => Math.round(x(d)) + 0.5)
    .attr("x2", (d) => Math.round(x(d)) + 0.5)
    .attr("y1", 0)
    .attr("y2", 600)
    .attr("stroke", "#c0c0c0");
  grid.selectAll("line.h")
    .data(leftTicks.filter((v) => v !== 0))
    .join("line")
    .attr("x1", x(0))
    .attr("x2", x(360))
    .attr("y1", (v) => (v % 10 === 0 ? Math.round(y(v)) : Math.round(y(v)) + 0.5))
    .attr("y2", (v) => (v % 10 === 0 ? Math.round(y(v)) : Math.round(y(v)) + 0.5))
    .attr("stroke", "#c0c0c0")
    .attr("stroke-width", (v) => (v % 10 === 0 ? 2 : 1));
  grid.append("line")
    .attr("x1", x(0)).attr("x2", x(360))
    .attr("y1", y(0) - 0.5).attr("y2", y(0) - 0.5)
    .attr("stroke", "#8c8c8c").attr("stroke-width", 2);
  grid.append("line")
    .attr("x1", x(0)).attr("x2", x(360))
    .attr("y1", y(0) + 1).attr("y2", y(0) + 1)
    .attr("stroke", "#c8c8c8").attr("stroke-width", 1);
  grid.append("line")
    .attr("x1", x(0)).attr("x2", x(360))
    .attr("y1", 600).attr("y2", 600)
    .attr("stroke", "#000").attr("stroke-width", 2);

  // axis labels
  const labels = svg.append("g").attr("font-family", FONT).attr("font-size", 10).attr("fill", "#000");
  labels.selectAll("text.l")
    .data(leftTicks)
    .join("text")
    .attr("x", 20)
    .attr("y", (v) => y(v))
    .attr("dominant-baseline", "central")
    .text((v) => String(v));
  labels.selectAll("text.r")
    .data(rightTicks)
    .join("text")
    .attr("x", 710)
    .attr("y", (v) => yRain(v))
    .attr("dominant-baseline", "central")
    .text((v) => String(v));
  labels.selectAll("text.d")
    .data(dayLabels)
    .join("text")
    .attr("transform", (_, i) => `translate(${Math.round(x(i * 24)) + 12},603) rotate(-90)`)
    .attr("text-anchor", "end")
    .attr("font-size", 11)
    .attr("textLength", 28)
    .attr("lengthAdjust", "spacingAndGlyphs")
    .text((d) => d);
  labels.append("text").attr("x", 20).attr("y", 607).attr("dominant-baseline", "central").text("(°C)");
  labels.append("text").attr("x", 710).attr("y", 606).attr("dominant-baseline", "central").text("(mm)");
  labels.append("text").attr("x", 60).attr("y", 89).attr("dominant-baseline", "central").text("Temp. 850hPa");
  labels.append("text").attr("x", 60).attr("y", 258).attr("dominant-baseline", "central").text("Temp. 500hPa");
  labels.append("text").attr("x", 60).attr("y", 505).attr("dominant-baseline", "central").text("Précipitations");

  // ensemble members
  const members = svg.append("g").attr("fill", "none").attr("stroke-width", 1).attr("shape-rendering", "crispEdges");
  const drawMember = (hrs: number[], vals: number[], sc: d3.ScaleLinear<number, number>, color: string) => {
    const pts = vals.map((v, i) => [x(hrs[i]), sc(v)] as [number, number]);
    members.append("path").attr("d", d3.line()(pts)).attr("stroke", color);
    members.append("path").attr("d", plusMarks(pts)).attr("stroke", color);
  };
  t850Members.forEach((vals, m) => drawMember(hours12, vals, y, memberColors[m]));
  t500Members.forEach((vals, m) => drawMember(hours12, vals, y, memberColors[m]));
  precipMembers.forEach((events, m) => {
    const vals = rainHours.map((h) => {
      const e = events.find((ev) => ev[0] === h);
      return e ? e[1] : 0;
    });
    drawMember(rainHours, vals, yRain, memberColors[m]);
  });

  // operational, control, mean
  const bold = svg.append("g").attr("fill", "none").attr("stroke-linejoin", "round");
  const boldLine = (hrs: number[], vals: number[], sc: d3.ScaleLinear<number, number>, color: string, w: number) => {
    const line = d3.line<number>().x((_, i) => x(hrs[i])).y((d) => sc(d));
    bold.append("path").attr("d", line(vals)).attr("stroke", color).attr("stroke-width", w);
  };
  boldLine(operHours, t850Oper, y, "#000", 3);
  boldLine(operHours, t500Oper, y, "#000", 3);
  boldLine(operRainHours, precipOper, yRain, "#000", 2.5);
  boldLine(hours6, t850Control, y, "#0000ff", 3);
  boldLine(hours6, t500Control, y, "#0000ff", 3);
  boldLine(rainHours, precipControl, yRain, "#0000ff", 3);
  boldLine(hours6, t850Mean, y, "#ff0000", 4);
  boldLine(hours6, t500Mean, y, "#ff0000", 4);
  boldLine(rainHours, precipMean, yRain, "#ff0000", 4);

  // legend
  const leg = svg.append("g").attr("font-family", FONT).attr("font-size", 10).attr("fill", "#000");
  leg.append("rect").attr("x", 35).attr("y", 635).attr("width", 31).attr("height", 4).attr("fill", "#ff0000");
  leg.append("text").attr("x", 75).attr("y", 637).attr("dominant-baseline", "central").text("Moyenne des scénarios");
  leg.append("rect").attr("x", 225).attr("y", 635).attr("width", 31).attr("height", 4).attr("fill", "#0000ff");
  leg.append("text").attr("x", 264).attr("y", 637).attr("dominant-baseline", "central").text("Run de contrôle");
  leg.append("rect").attr("x", 225).attr("y", 645).attr("width", 31).attr("height", 4).attr("fill", "#000");
  leg.append("text").attr("x", 264).attr("y", 647).attr("dominant-baseline", "central").text("Run CEP/ECMWF");
  leg.append("text").attr("x", 369).attr("y", 652).attr("dominant-baseline", "central").text("50 Perts.");

  const sw = leg.append("g");
  memberColors.forEach((c, m) => {
    const col = m % 25;
    const row = Math.floor(m / 25);
    const sx = 430 + col * 10.68;
    sw.append("rect").attr("x", sx).attr("y", row === 0 ? 644 : 651).attr("width", 10).attr("height", 7).attr("fill", c);
    sw.append("text")
      .attr("x", sx + 5)
      .attr("y", row === 0 ? 638 : 663)
      .attr("text-anchor", "middle")
      .attr("dominant-baseline", "central")
      .attr("font-size", 7.5)
      .attr("font-weight", "bold")
      .text(String(m + 1).padStart(2, "0"));
  });

  // title block
  leg.append("rect").attr("x", 20.5).attr("y", 667.5).attr("width", 420).attr("height", 34).attr("fill", "none").attr("stroke", "#000");
  leg.append("text").attr("x", 30).attr("y", 677).attr("dominant-baseline", "central")
    .attr("font-weight", "bold").attr("font-size", 11.5).attr("textLength", 377).attr("lengthAdjust", "spacingAndGlyphs")
    .text("Diagramme ensembles ECMWF/CEP 0.25° sur 360h pour Lyon");
  leg.append("text").attr("x", 30).attr("y", 691).attr("dominant-baseline", "central")
    .text("Températures 850hPa et 500hPa (°C) , précipitations (mm)");
  leg.append("text").attr("x", 450).attr("y", 676).attr("dominant-baseline", "central")
    .text("Ensemble ECMWF/CEP du 07/08/2024 - 00Z");
  leg.append("text").attr("x", 450).attr("y", 691).attr("dominant-baseline", "central")
    .attr("font-weight", "bold").attr("font-size", 11.5).attr("textLength", 243).attr("lengthAdjust", "spacingAndGlyphs")
    .text("Copyright 2024 Meteociel.fr - ECMWF");
}

const App: React.FunctionComponent = () => {
  const svg = React.useRef<SVGSVGElement>(null);
  React.useEffect(() => {
    if (svg.current) drawChart(svg.current);
  }, []);

  return (
    <svg
      ref={svg}
      width={740}
      height={700}
      style={{ position: "absolute", left: 0, top: 0, display: "block", background: "#fff" }}
    />
  );
};

export default App;
